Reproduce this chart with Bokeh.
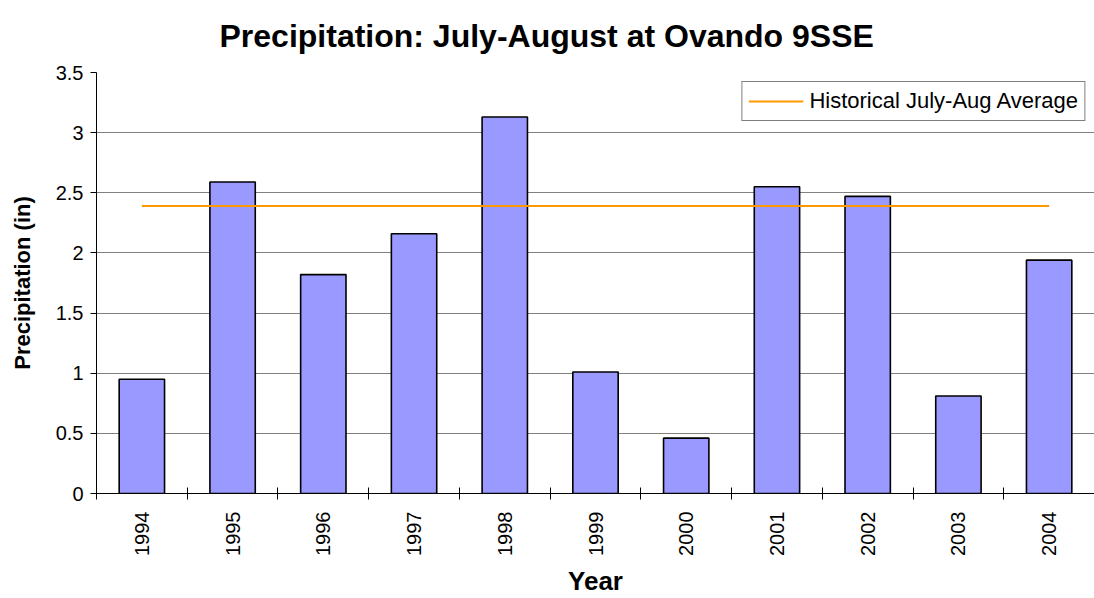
from bokeh.plotting import figure
from bokeh.models import FixedTicker, CustomJSTickFormatter, Range1d, Title
from bokeh.embed import file_html
from bokeh.resources import INLINE
import math

years = [1994, 1995, 1996, 1997, 1998, 1999, 2000, 2001, 2002, 2003, 2004]
precip = [0.95, 2.59, 1.82, 2.16, 3.13, 1.01, 0.46, 2.55, 2.47, 0.81, 1.94]
hist_avg = 2.39
y_ticks = [0, 0.5, 1, 1.5, 2, 2.5, 3, 3.5]
title_text = "Precipitation: July-August at Ovando 9SSE"

FONT = "Liberation Sans"

p = figure(width=1094, height=598, output_backend="svg", toolbar_location=None,
           x_range=Range1d(years[0] - 0.5, years[-1] + 0.5),
           y_range=Range1d(0, 3.5),
           min_border_left=96, min_border_right=0, min_border_top=72, min_border_bottom=104)
p.title = Title(text=title_text, align="left", offset=123, standoff=34, vertical_align="top",
                text_font=FONT, text_font_size="32px", text_font_style="bold",
                text_color="black")
p.outline_line_color = None
p.background_fill_color = "white"
p.border_fill_color = "white"

p.vbar(x=years, top=precip, width=0.5, fill_color="#9999FF", line_color="black", line_width=1.6)
p.line(x=years, y=[hist_avg] * len(years), line_color="#FF9900", line_width=2,
       legend_label="Historical July-Aug Average")

# x axis
xa = p.xaxis[0]
xa.ticker = FixedTicker(ticks=years, minor_ticks=[y - 0.5 for y in years] + [years[-1] + 0.5])
xa.major_tick_line_color = None
xa.major_tick_out = 0
xa.major_tick_in = 0
xa.minor_tick_in = 6
xa.minor_tick_out = 6
xa.minor_tick_line_color = "black"
xa.axis_line_color = "black"
xa.major_label_orientation = math.pi / 2
xa.major_label_text_font = FONT
xa.major_label_text_font_size = "20px"
xa.major_label_text_color = "black"
xa.major_label_standoff = 12
xa.axis_label = "Year"
xa.axis_label_text_font = FONT
xa.axis_label_text_font_size = "26px"
xa.axis_label_text_font_style = "bold"
xa.axis_label_text_color = "black"
xa.axis_label_standoff = 7

# y axis
ya = p.yaxis[0]
ya.ticker = FixedTicker(ticks=y_ticks)
ya.formatter = CustomJSTickFormatter(code="return tick.toString();")
ya.major_tick_in = 0
ya.major_tick_out = 6
ya.minor_tick_line_color = None
ya.axis_line_color = "black"
ya.major_tick_line_color = "black"
ya.major_label_text_font = FONT
ya.major_label_text_font_size = "20px"
ya.major_label_text_color = "black"
ya.major_label_standoff = 7
ya.axis_label = "Precipitation (in)"
ya.axis_label_text_font = FONT
ya.axis_label_text_font_size = "22px"
ya.axis_label_text_font_style = "bold"
ya.axis_label_text_color = "black"
ya.axis_label_standoff = 18

p.xgrid.grid_line_color = None
p.ygrid.grid_line_color = "#808080"
p.ygrid.grid_line_width = 1

lg = p.legend[0]
lg.location = "top_right"
lg.margin = 9
lg.border_line_color = "black"
lg.border_line_width = 1
lg.background_fill_color = "white"
lg.background_fill_alpha = 1
lg.label_text_font = FONT
lg.label_text_font_size = "22px"
lg.label_text_color = "black"
lg.glyph_width = 55
lg.label_standoff = 6
lg.padding = 6
lg.spacing = 0

open("out.html", "w").write(file_html(p, INLINE))
